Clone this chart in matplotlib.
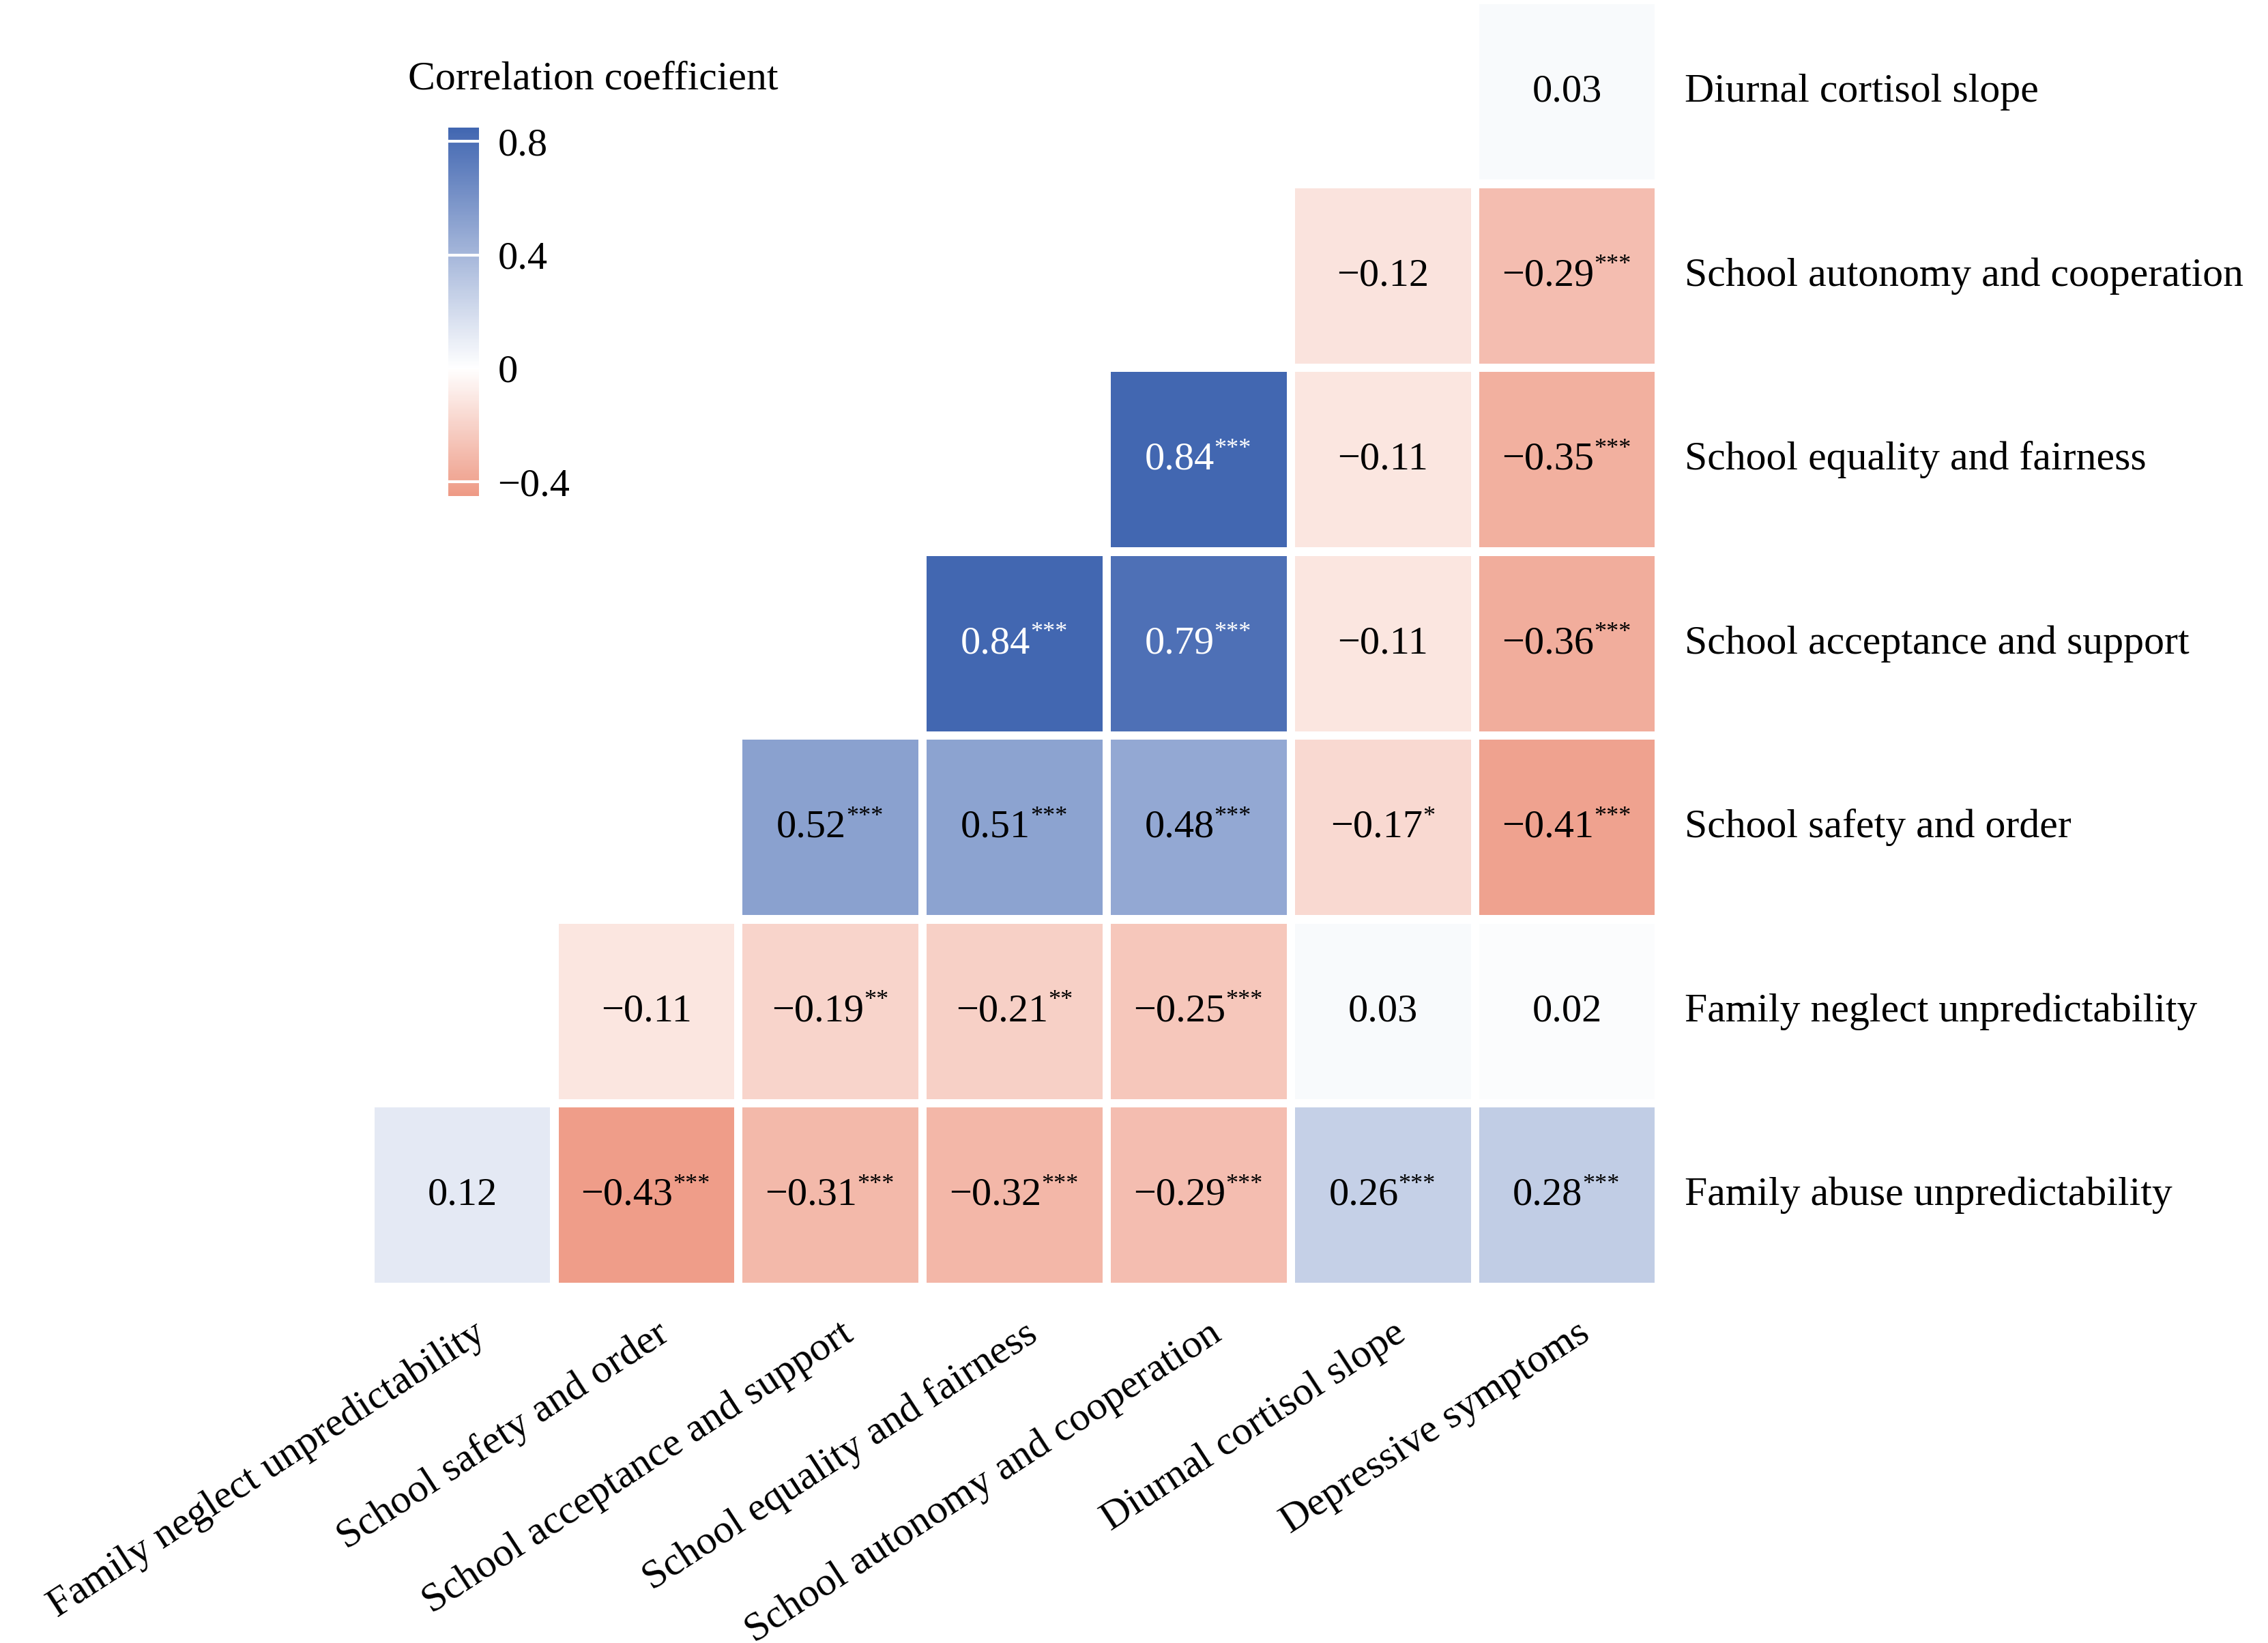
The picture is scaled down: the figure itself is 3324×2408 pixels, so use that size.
import numpy as np
import matplotlib.pyplot as plt
from matplotlib.colors import LinearSegmentedColormap, Normalize

plt.rcParams['font.family'] = ['Liberation Serif', 'DejaVu Serif']

row_labels = ['Diurnal cortisol slope', 'School autonomy and cooperation',
              'School equality and fairness', 'School acceptance and support',
              'School safety and order', 'Family neglect unpredictability',
              'Family abuse unpredictability']
col_labels = ['Family neglect unpredictability', 'School safety and order',
              'School acceptance and support', 'School equality and fairness',
              'School autonomy and cooperation', 'Diurnal cortisol slope',
              'Depressive symptoms']

# each row starts at column 6-i
r_vals = [
    [0.03],
    [-0.12, -0.29],
    [0.84, -0.11, -0.35],
    [0.84, 0.79, -0.11, -0.36],
    [0.52, 0.51, 0.48, -0.17, -0.41],
    [-0.11, -0.19, -0.21, -0.25, 0.03, 0.02],
    [0.12, -0.43, -0.31, -0.32, -0.29, 0.26, 0.28],
]
r_stars = [
    [''],
    ['', '***'],
    ['***', '', '***'],
    ['***', '***', '', '***'],
    ['***', '***', '***', '*', '***'],
    ['', '**', '**', '***', '', ''],
    ['', '***', '***', '***', '***', '***', '***'],
]

vmin, vmax = -0.45, 0.85
mid = -vmin / (vmax - vmin)
cmap = LinearSegmentedColormap.from_list(
    'rb', [(0, '#EE9A85'), (mid, '#FFFFFF'), (1, '#4166B1')])
norm = Normalize(vmin=vmin, vmax=vmax)

fig = plt.figure(figsize=(16.62, 12.04), dpi=200)
ax = fig.add_axes([256/1568, 1-890/1136, 891/1568, 890/1136])
n = 7
gap = 0.045
for i in range(n):
    start = n - 1 - i
    for k, v in enumerate(r_vals[i]):
        j = start + k
        ax.add_patch(plt.Rectangle((j + gap/2, i + gap/2), 1 - gap, 1 - gap,
                                   facecolor=cmap(norm(v)), edgecolor='none'))
        s = f'{v:.2f}'.replace('-', '\u2212')
        st = r_stars[i][k]
        col = 'white' if abs(v) > 0.7 else 'black'
        shift = 0.035 * len(st)
        t = ax.text(j + 0.5 - shift, i + 0.5, s, ha='center', va='center',
                    fontsize=21, color=col)
        if st:
            ax.annotate(st, xy=(1, 0.8), xycoords=t, ha='left', va='center',
                        fontsize=13, color=col)
ax.set_xlim(0, n)
ax.set_ylim(n, 0)
ax.set_xticks([])
ax.set_yticks([])
for s in ax.spines.values():
    s.set_visible(False)

for i, lab in enumerate(row_labels):
    ax.text(n + 0.14, i + 0.5, lab, ha='left', va='center', fontsize=21.5)
for j, lab in enumerate(col_labels):
    ax.text(j + 0.55, n + 0.15, lab, ha='right', va='top', rotation=33,
            rotation_mode='anchor', fontsize=21.5)

cax = fig.add_axes([310/1568, 1-343/1136, 21/1568, 255/1136])
sm = plt.cm.ScalarMappable(norm=norm, cmap=cmap)
cb = fig.colorbar(sm, cax=cax)
cb.outline.set_visible(False)
cb.set_ticks([-0.4, 0, 0.4, 0.8])
cb.set_ticklabels(['\u22120.4', '0', '0.4', '0.8'])
cb.ax.tick_params(length=0, labelsize=21, pad=10)
for t in [-0.4, 0.4, 0.8]:
    cax.axhline(t, color='white', lw=1.5)
fig.text(282/1568, 1-55/1136, 'Correlation coefficient', ha='left', va='center', fontsize=21.5)

fig.savefig('out.png', dpi=200)
